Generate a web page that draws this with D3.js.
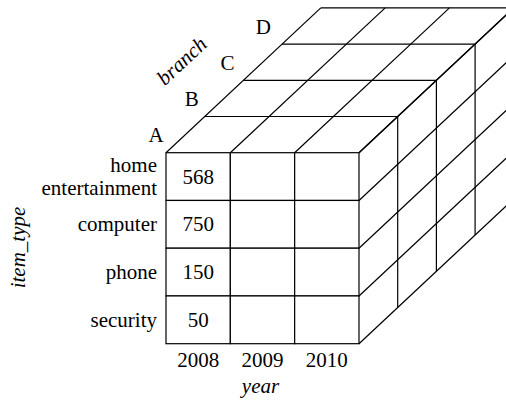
<!DOCTYPE html>
<html>
<head>
<meta charset="utf-8">
<script src="https://cdn.jsdelivr.net/npm/d3@7"></script>
<style>
  html, body { margin: 0; padding: 0; background: #fff; }
</style>
</head>
<body>
<div id="app"></div>
<script>
// data
const years = ["2008", "2009", "2010"];
const itemTypes = ["home entertainment", "computer", "phone", "security"];
const branches = ["A", "B", "C", "D"];
const sales2008 = [568, 750, 150, 50];

const W = 506, H = 401;
const FONT = "'Liberation Serif', 'Times New Roman', Tinos, 'DejaVu Serif', serif";

const svg = d3.select("#app")
    .append("svg")
    .attr("width", W)
    .attr("height", H)
    .attr("font-family", FONT)
    .attr("font-size", 21)
    .style("font-family", FONT);

// front face scales
const x = d3.scaleBand().domain(years).range([166, 359]);
const y = d3.scaleBand().domain(itemTypes).range([152.7, 343.7]);

// depth (branch) offsets
const dx = d3.scaleLinear().domain([0, branches.length]).range([0, 154.8]);
const dy = d3.scaleLinear().domain([0, branches.length]).range([0, -144.8]);

const x0 = x.range()[0], x1 = x.range()[1];
const y0 = y.range()[0], y1 = y.range()[1];
const nB = branches.length;

const colEdges = years.map(d => x(d)).concat([x1]);
const rowEdges = itemTypes.map(d => y(d)).concat([y1]);
const layers = d3.range(1, nB + 1);

const segs = [];
// top face
layers.forEach(k => segs.push([x0 + dx(k), y0 + dy(k), x1 + dx(k), y0 + dy(k)]));
colEdges.forEach(c => segs.push([c, y0, c + dx(nB), y0 + dy(nB)]));
// right face
layers.forEach(k => segs.push([x1 + dx(k), y0 + dy(k), x1 + dx(k), y1 + dy(k)]));
rowEdges.forEach(r => segs.push([x1, r, x1 + dx(nB), r + dy(nB)]));

svg.append("g")
    .selectAll("line")
    .data(segs)
    .join("line")
    .attr("x1", d => d[0])
    .attr("y1", d => d[1])
    .attr("x2", d => d[2])
    .attr("y2", d => d[3])
    .attr("stroke", "#000")
    .attr("stroke-width", 1.2);

// front face cells
const cells = [];
itemTypes.forEach((it, i) => years.forEach((yr, j) => cells.push({ it, yr, v: j === 0 ? sales2008[i] : null })));

svg.append("g")
    .selectAll("rect")
    .data(cells)
    .join("rect")
    .attr("x", d => x(d.yr))
    .attr("y", d => y(d.it))
    .attr("width", x.bandwidth())
    .attr("height", y.bandwidth())
    .attr("fill", "#fff")
    .attr("stroke", "#000")
    .attr("stroke-width", 1.2);

svg.append("g")
    .selectAll("text")
    .data(cells.filter(d => d.v !== null))
    .join("text")
    .attr("x", d => x(d.yr) + x.bandwidth() / 2)
    .attr("y", d => y(d.it) + y.bandwidth() / 2 + 7)
    .attr("text-anchor", "middle")
    .text(d => d.v);

// item type labels
const rowLab = svg.append("g")
    .selectAll("text")
    .data(itemTypes)
    .join("text")
    .attr("text-anchor", "end")
    .attr("x", 157)
    .attr("y", d => y(d) + y.bandwidth() / 2 + 7);

rowLab.each(function(d) {
    const words = d.split(" ");
    const t = d3.select(this);
    words.forEach((w, i) => {
        t.append("tspan")
            .attr("x", 157)
            .attr("dy", i === 0 ? -(words.length - 1) * 11.5 : 23)
            .text(w);
    });
});

// year labels
svg.append("g")
    .selectAll("text")
    .data(years)
    .join("text")
    .attr("x", d => x(d) + x.bandwidth() / 2)
    .attr("y", y1 + 23.5)
    .attr("text-anchor", "middle")
    .text(d => d);

// branch labels
const bx = d3.scaleLinear().domain([0, nB - 1]).range([156, 263.3]);
const by = d3.scaleLinear().domain([0, nB - 1]).range([141.7, 34.3]);
svg.append("g")
    .selectAll("text")
    .data(branches)
    .join("text")
    .attr("x", (d, i) => bx(i))
    .attr("y", (d, i) => by(i))
    .attr("text-anchor", "middle")
    .text(d => d);

// axis titles
svg.append("text")
    .attr("transform", "translate(186.5,66) rotate(-43)")
    .attr("text-anchor", "middle")
    .style("font-style", "italic")
    .text("branch");

svg.append("text")
    .attr("x", (x0 + x1) / 2 - 2)
    .attr("y", 393)
    .attr("text-anchor", "middle")
    .style("font-style", "italic")
    .text("year");

svg.append("text")
    .attr("transform", "translate(25,247.5) rotate(-90)")
    .attr("text-anchor", "middle")
    .style("font-style", "italic")
    .text("item_type");
</script>
</body>
</html>
